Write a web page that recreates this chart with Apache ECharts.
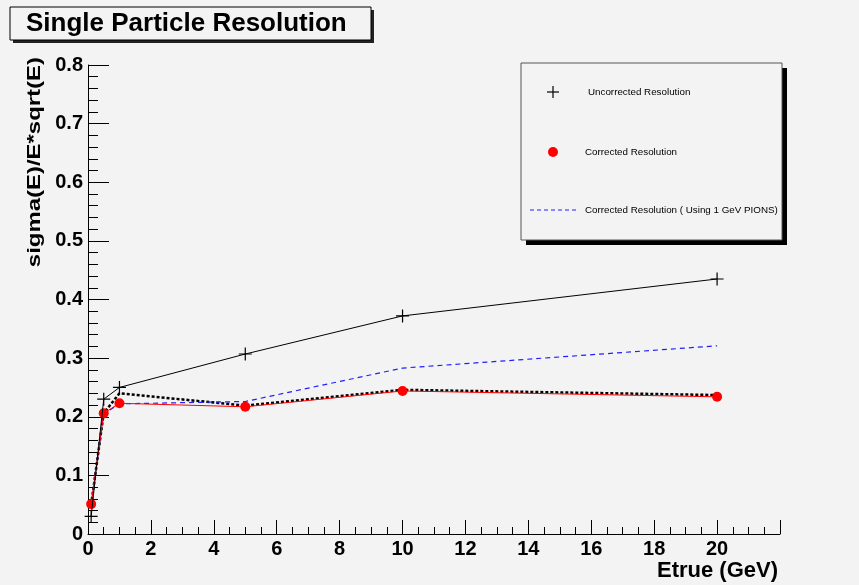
<!DOCTYPE html>
<html>
<head>
<meta charset="utf-8">
<script src="https://cdn.jsdelivr.net/npm/echarts@6/dist/echarts.min.js"></script>
<style>
html,body{margin:0;padding:0;background:#f3f3f3;}
#c{width:859px;height:585px;}
</style>
</head>
<body>
<div id="c"></div>
<script>
// Data
var energies = [0.1, 0.5, 1, 5, 10, 20];
var uncorrected = [0.030, 0.230, 0.250, 0.307, 0.372, 0.435];
var corrected = [0.051, 0.206, 0.223, 0.217, 0.244, 0.234];
var correctedPions = [0.050, 0.205, 0.222, 0.226, 0.283, 0.321];
var correctedAlt = [0.050, 0.206, 0.240, 0.219, 0.246, 0.237];
var titleText = 'Single Particle Resolution';
var xName = 'Etrue (GeV)';
var yName = 'sigma(E)/E*sqrt(E)';
var legendNames = ['Uncorrected Resolution', 'Corrected Resolution', 'Corrected Resolution ( Using 1 GeV PIONS)'];

function pairs(xs, ys){ return xs.map(function(x,i){ return [x, ys[i]]; }); }

var FONT = '"Liberation Sans", Arial, Helvetica, sans-serif';
var chart = echarts.init(document.getElementById('c'), null, {renderer:'canvas'});
var plus = 'path://M0,5 L10,5 M5,0 L5,10';

chart.setOption({
  backgroundColor: '#f3f3f3',
  animation: false,
  grid: {left: 88, top: 65, right: 79, bottom: 51, containLabel: false},
  xAxis: {
    type: 'value', min: 0, max: 22, interval: 2,
    axisLine: {show: true, onZero: false, lineStyle: {color: '#000', width: 1}},
    axisTick: {show: true, inside: true, length: 14, lineStyle: {color: '#000'}},
    minorTick: {show: true, splitNumber: 4, length: 7, lineStyle: {color: '#000'}},
    splitLine: {show: false},
    axisLabel: {show: true, margin: 5, color: '#000', fontFamily: FONT, fontWeight: 'bold', fontSize: 20, showMaxLabel: false,
      formatter: function(v){ return v >= 21 ? '' : String(v); }}
  },
  yAxis: {
    type: 'value', min: 0, max: 0.8, interval: 0.1,
    axisLine: {show: true, onZero: false, lineStyle: {color: '#000', width: 1}},
    axisTick: {show: true, inside: true, length: 21, lineStyle: {color: '#000'}},
    minorTick: {show: true, splitNumber: 5, length: 10, lineStyle: {color: '#000'}},
    splitLine: {show: false},
    axisLabel: {show: true, margin: 5, color: '#000', fontFamily: FONT, fontWeight: 'bold', fontSize: 20,
      formatter: function(v){ return v === 0 ? '0' : v.toFixed(1); }}
  },
  series: [
    {
      name: 'alt', type: 'line', data: pairs(energies, correctedAlt), showSymbol: false, symbol: 'none',
      lineStyle: {color: '#000', width: 2.5, type: [3, 2]}, z: 2
    },
    {
      name: legendNames[2], type: 'line', data: pairs(energies, correctedPions), showSymbol: false, symbol: 'none',
      lineStyle: {color: '#2020ff', width: 1.2, type: [5, 4]}, z: 3
    },
    {
      name: legendNames[1], type: 'line', data: pairs(energies, corrected), symbol: 'circle', symbolSize: 10,
      itemStyle: {color: '#ff0000'}, lineStyle: {color: '#ff0000', width: 1}, z: 4
    },
    {
      name: legendNames[0], type: 'line', data: pairs(energies, uncorrected), symbol: plus, symbolSize: 13,
      itemStyle: {color: 'rgba(0,0,0,0)', borderColor: '#000', borderWidth: 1.2},
      lineStyle: {color: '#000', width: 1}, z: 5
    }
  ],
  graphic: [
    // title box with shadow
    {type: 'rect', shape: {x: 13, y: 10, width: 361, height: 33}, style: {fill: '#222'}, z: 10},
    {type: 'rect', shape: {x: 10, y: 7, width: 361, height: 33}, style: {fill: '#f3f3f3', stroke: '#000', lineWidth: 1}, z: 11},
    {type: 'text', x: 26, y: 24, style: {text: titleText, font: 'bold 26px ' + FONT, fill: '#000', verticalAlign: 'middle', align: 'left'}, z: 12},
    // legend box with shadow
    {type: 'rect', shape: {x: 526, y: 68, width: 261, height: 177}, style: {fill: '#000'}, z: 10},
    {type: 'rect', shape: {x: 521, y: 63, width: 261, height: 177}, style: {fill: '#f3f3f3', stroke: '#555', lineWidth: 1}, z: 11},
    {type: 'line', shape: {x1: 547, y1: 92, x2: 559, y2: 92}, style: {stroke: '#000', lineWidth: 1.2}, z: 12},
    {type: 'line', shape: {x1: 553, y1: 86, x2: 553, y2: 98}, style: {stroke: '#000', lineWidth: 1.2}, z: 12},
    {type: 'text', x: 588, y: 92, style: {text: legendNames[0], font: '9.8px ' + FONT, fill: '#000', verticalAlign: 'middle'}, z: 12},
    {type: 'circle', shape: {cx: 553, cy: 152, r: 5}, style: {fill: '#ff0000'}, z: 12},
    {type: 'text', x: 585, y: 152, style: {text: legendNames[1], font: '9.8px ' + FONT, fill: '#000', verticalAlign: 'middle'}, z: 12},
    {type: 'line', shape: {x1: 530, y1: 210, x2: 576, y2: 210}, style: {stroke: '#2020ff', lineWidth: 1.2, lineDash: [4, 3]}, z: 12},
    {type: 'text', x: 585, y: 210, style: {text: legendNames[2], font: '9.8px ' + FONT, fill: '#000', verticalAlign: 'middle'}, z: 12},
    // axis names
    {type: 'text', x: 778, y: 571, style: {text: xName, font: 'bold 22px ' + FONT, fill: '#000', align: 'right', verticalAlign: 'middle'}, z: 12},
    {type: 'text', x: 35, y: 57, rotation: Math.PI / 2, scaleX: 1.26, style: {text: yName, font: 'bold 19px ' + FONT, fill: '#000', align: 'right', verticalAlign: 'middle'}, z: 12}
  ]
});
</script>
</body>
</html>
